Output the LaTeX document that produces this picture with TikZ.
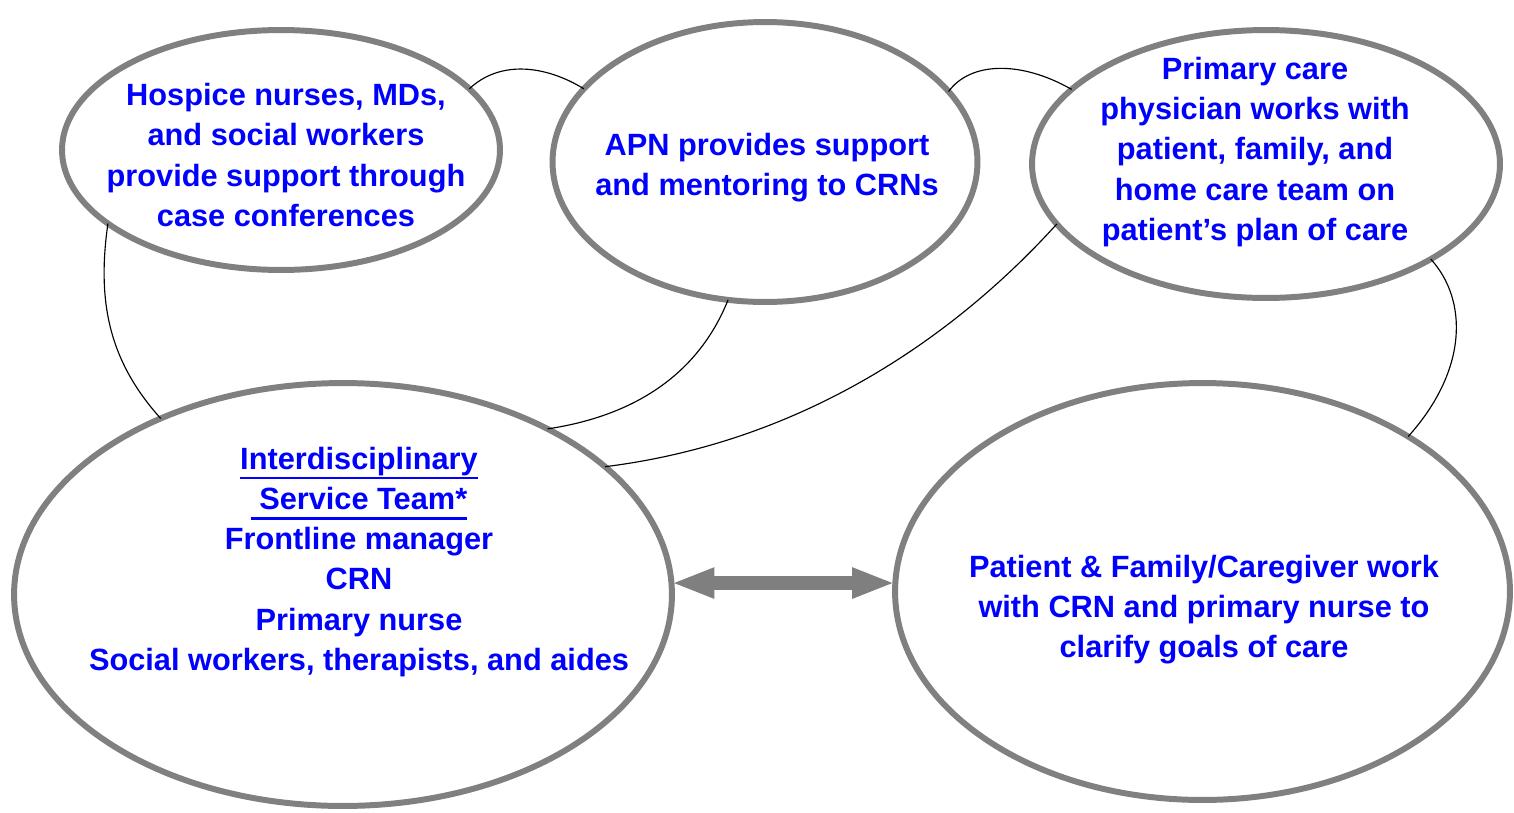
\documentclass[tikz,border=0pt]{standalone}
\usepackage{fontspec}
\setmainfont{Liberation Sans}
\usetikzlibrary{shapes.geometric,arrows.meta}
\definecolor{ringgray}{HTML}{808080}
\definecolor{textblue}{HTML}{0000FF}
\definecolor{arrowgray}{HTML}{7F7F7F}
\newcommand\thickul[1]{\setbox0\hbox{#1}\rlap{\rule[-5.5pt]{\wd0}{1.5pt}}\box0}
\tikzset{
  bubble/.style={ellipse,draw=ringgray,line width=3.4pt,inner sep=0pt,outer sep=0pt},
  bubbletext/.style={text=textblue,font=\fontsize{17.5}{22.8}\selectfont\bfseries,align=center,inner sep=0pt},
  link/.style={black,line width=0.65pt},
  dblarrow/.style={arrowgray,line width=0.28cm,
    {Triangle[length=0.86cm,width=0.56cm]}-{Triangle[length=0.86cm,width=0.56cm]}}
}

\begin{document}
\begin{tikzpicture}[x=0.02cm,y=-0.02cm]
  \useasboundingbox (0,0) rectangle (1514,812);
  % the five ellipses
  \node[bubble,minimum width=8.76cm,minimum height=4.8cm]  (hosp) at (281,150) {};
  \node[bubble,minimum width=8.5cm,minimum height=5.6cm]   (apn)  at (765,162) {};
  \node[bubble,minimum width=9.36cm,minimum height=5.36cm] (pcp)  at (1266,164) {};
  \node[bubble,minimum width=13.16cm,minimum height=8.46cm] (team) at (343,594.5) {};
  \node[bubble,minimum width=12.3cm,minimum height=8.34cm] (fam)  at (1202.5,591.5) {};
  % texts
  \node[bubbletext] (hosptxt) at (286,155) {Hospice nurses, MDs,\\and social workers\\provide support through\\case conferences};
  \node[bubbletext] (apntxt) at (767,168) {APN provides support\\and mentoring to CRNs};
  \node[bubbletext] (pcptxt) at (1255,152) {Primary care\\physician works with\\patient, family, and\\home care team on\\patient’s plan of care};
  \node[bubbletext] (teamtxt) at (359,562) {\thickul{Interdisciplinary}\\\thickul{\ Service Team*}\\Frontline manager\\CRN\\Primary nurse\\Social workers, therapists, and aides};
  \node[bubbletext] (famtxt) at (1204,610) {Patient \& Family/Caregiver work\\with CRN and primary nurse to\\clarify goals of care};
  % links
  \draw[link] (hosp.18) .. controls (500,60) and (545,65) .. (apn.158.4);
  \draw[link] (apn.21) .. controls (970,62) and (1020,60) .. (pcp.159.5);
  \draw[link] (hosp.203) .. controls (97,300) and (108,360) .. (team.136.7);
  \draw[link] (apn.255.3) .. controls (700,370) and (640,415) .. (team.39.9);
  \draw[link] (pcp.196.7) .. controls (970,320) and (820,440) .. (team.26.3);
  \draw[link] (pcp.330.8) .. controls (1468,300) and (1468,370) .. (fam.37.7);
  \draw[dblarrow] (team.2) -- (team.2 -| fam.west);
\end{tikzpicture}
\end{document}
